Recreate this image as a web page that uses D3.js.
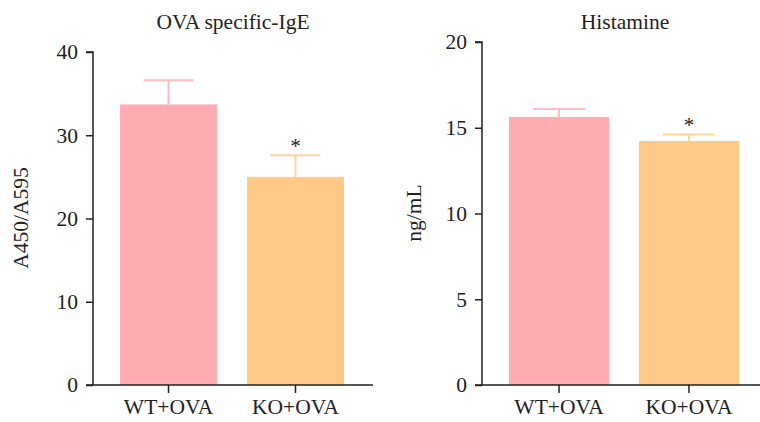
<!DOCTYPE html>
<html><head><meta charset="utf-8">
<script src="https://cdn.jsdelivr.net/npm/d3@7"></script>
<style>body{margin:0;background:#fff}svg{display:block}text{font-family:"Liberation Serif","Times New Roman",serif;fill:#222}</style>
</head><body>
<svg id="c" width="760" height="422"></svg>
<script>
const categories = ["WT+OVA", "KO+OVA"];
const igeMeans = [33.7, 25.0];
const igeErrors = [2.9, 2.6];
const histMeans = [15.63, 14.23];
const histErrors = [0.47, 0.37];
const igeTicks = [0, 10, 20, 30, 40];
const histTicks = [0, 5, 10, 15, 20];
const significance = ["", "*"];
const barColors = ["#FFADB3", "#FEC987"];
const errColors = ["#FFBCC1", "#FDD69F"];

const svg = d3.select("#c");
const FS = 21.5;

function panel(cfg) {
  const g = svg.append("g");
  const y = d3.scaleLinear().domain([0, cfg.max]).range([385, cfg.top]);
  const x = d3.scaleBand().domain(categories).range([cfg.x0, cfg.x1]).paddingInner(cfg.pin).paddingOuter(cfg.pout);
  g.selectAll("rect.bar").data(cfg.means).join("rect")
    .attr("x", (d, i) => x(categories[i])).attr("width", x.bandwidth())
    .attr("y", d => y(d)).attr("height", d => y(0) - y(d))
    .attr("fill", (d, i) => barColors[i]);
  cfg.means.forEach((m, i) => {
    const cx = x(categories[i]) + x.bandwidth() / 2;
    const top = y(m + cfg.errs[i]);
    g.append("line").attr("x1", cx).attr("x2", cx).attr("y1", y(m)).attr("y2", top)
      .attr("stroke", errColors[i]).attr("stroke-width", 2);
    g.append("line").attr("x1", cx - cfg.cap).attr("x2", cx + cfg.cap).attr("y1", top).attr("y2", top)
      .attr("stroke", errColors[i]).attr("stroke-width", 2);
    if (significance[i]) {
      g.append("text").attr("x", cx).attr("y", top - 2.5)
        .attr("text-anchor", "middle").attr("font-size", 21).text(significance[i]);
    }
  });
  const ya = g.append("g").attr("transform", `translate(${cfg.x0},0)`)
    .call(d3.axisLeft(y).tickValues(cfg.ticks).tickSize(7).tickPadding(8));
  ya.select(".domain").attr("stroke", "#222").attr("stroke-width", 1.5).attr("d", `M-7,${y(cfg.max)}H0V${y(0)}`);
  ya.selectAll(".tick line").attr("stroke", "#222").attr("stroke-width", 1.5);
  ya.selectAll(".tick text").attr("font-size", FS).attr("font-family", '"Liberation Serif",serif').attr("fill", "#222");
  const xa = g.append("g").attr("transform", `translate(0,385)`)
    .call(d3.axisBottom(x).tickSize(8).tickPadding(6));
  xa.select(".domain").attr("stroke", "#222").attr("stroke-width", 1.5).attr("d", `M${cfg.x0 - 7},0H${cfg.xEnd}`);
  xa.selectAll(".tick line").attr("stroke", "#222").attr("stroke-width", 1.5);
  xa.selectAll(".tick text").attr("font-size", FS).attr("font-family", '"Liberation Serif",serif').attr("fill", "#222");
  g.append("text").attr("x", cfg.titleX).attr("y", 29).attr("text-anchor", "middle").attr("font-size", FS).text(cfg.title);
  g.append("text").attr("transform", `translate(${cfg.labX},${cfg.labY}) rotate(-90)`)
    .attr("text-anchor", "middle").attr("dy", "0.35em").attr("font-size", FS).text(cfg.ylabel);
}

panel({means: igeMeans, errs: igeErrors, max: 40, top: 52, ticks: igeTicks, x0: 93, x1: 371, xEnd: 373,
  pin: 0.236, pout: 0.213, cap: 25, title: "OVA specific-IgE", titleX: 233, ylabel: "A450/A595", labX: 20, labY: 218});
panel({means: histMeans, errs: histErrors, max: 20, top: 42, ticks: histTicks, x0: 482, x1: 766, xEnd: 760,
  pin: 0.23, pout: 0.208, cap: 26, title: "Histamine", titleX: 625, ylabel: "ng/mL", labX: 413, labY: 213});
</script>
</body></html>
